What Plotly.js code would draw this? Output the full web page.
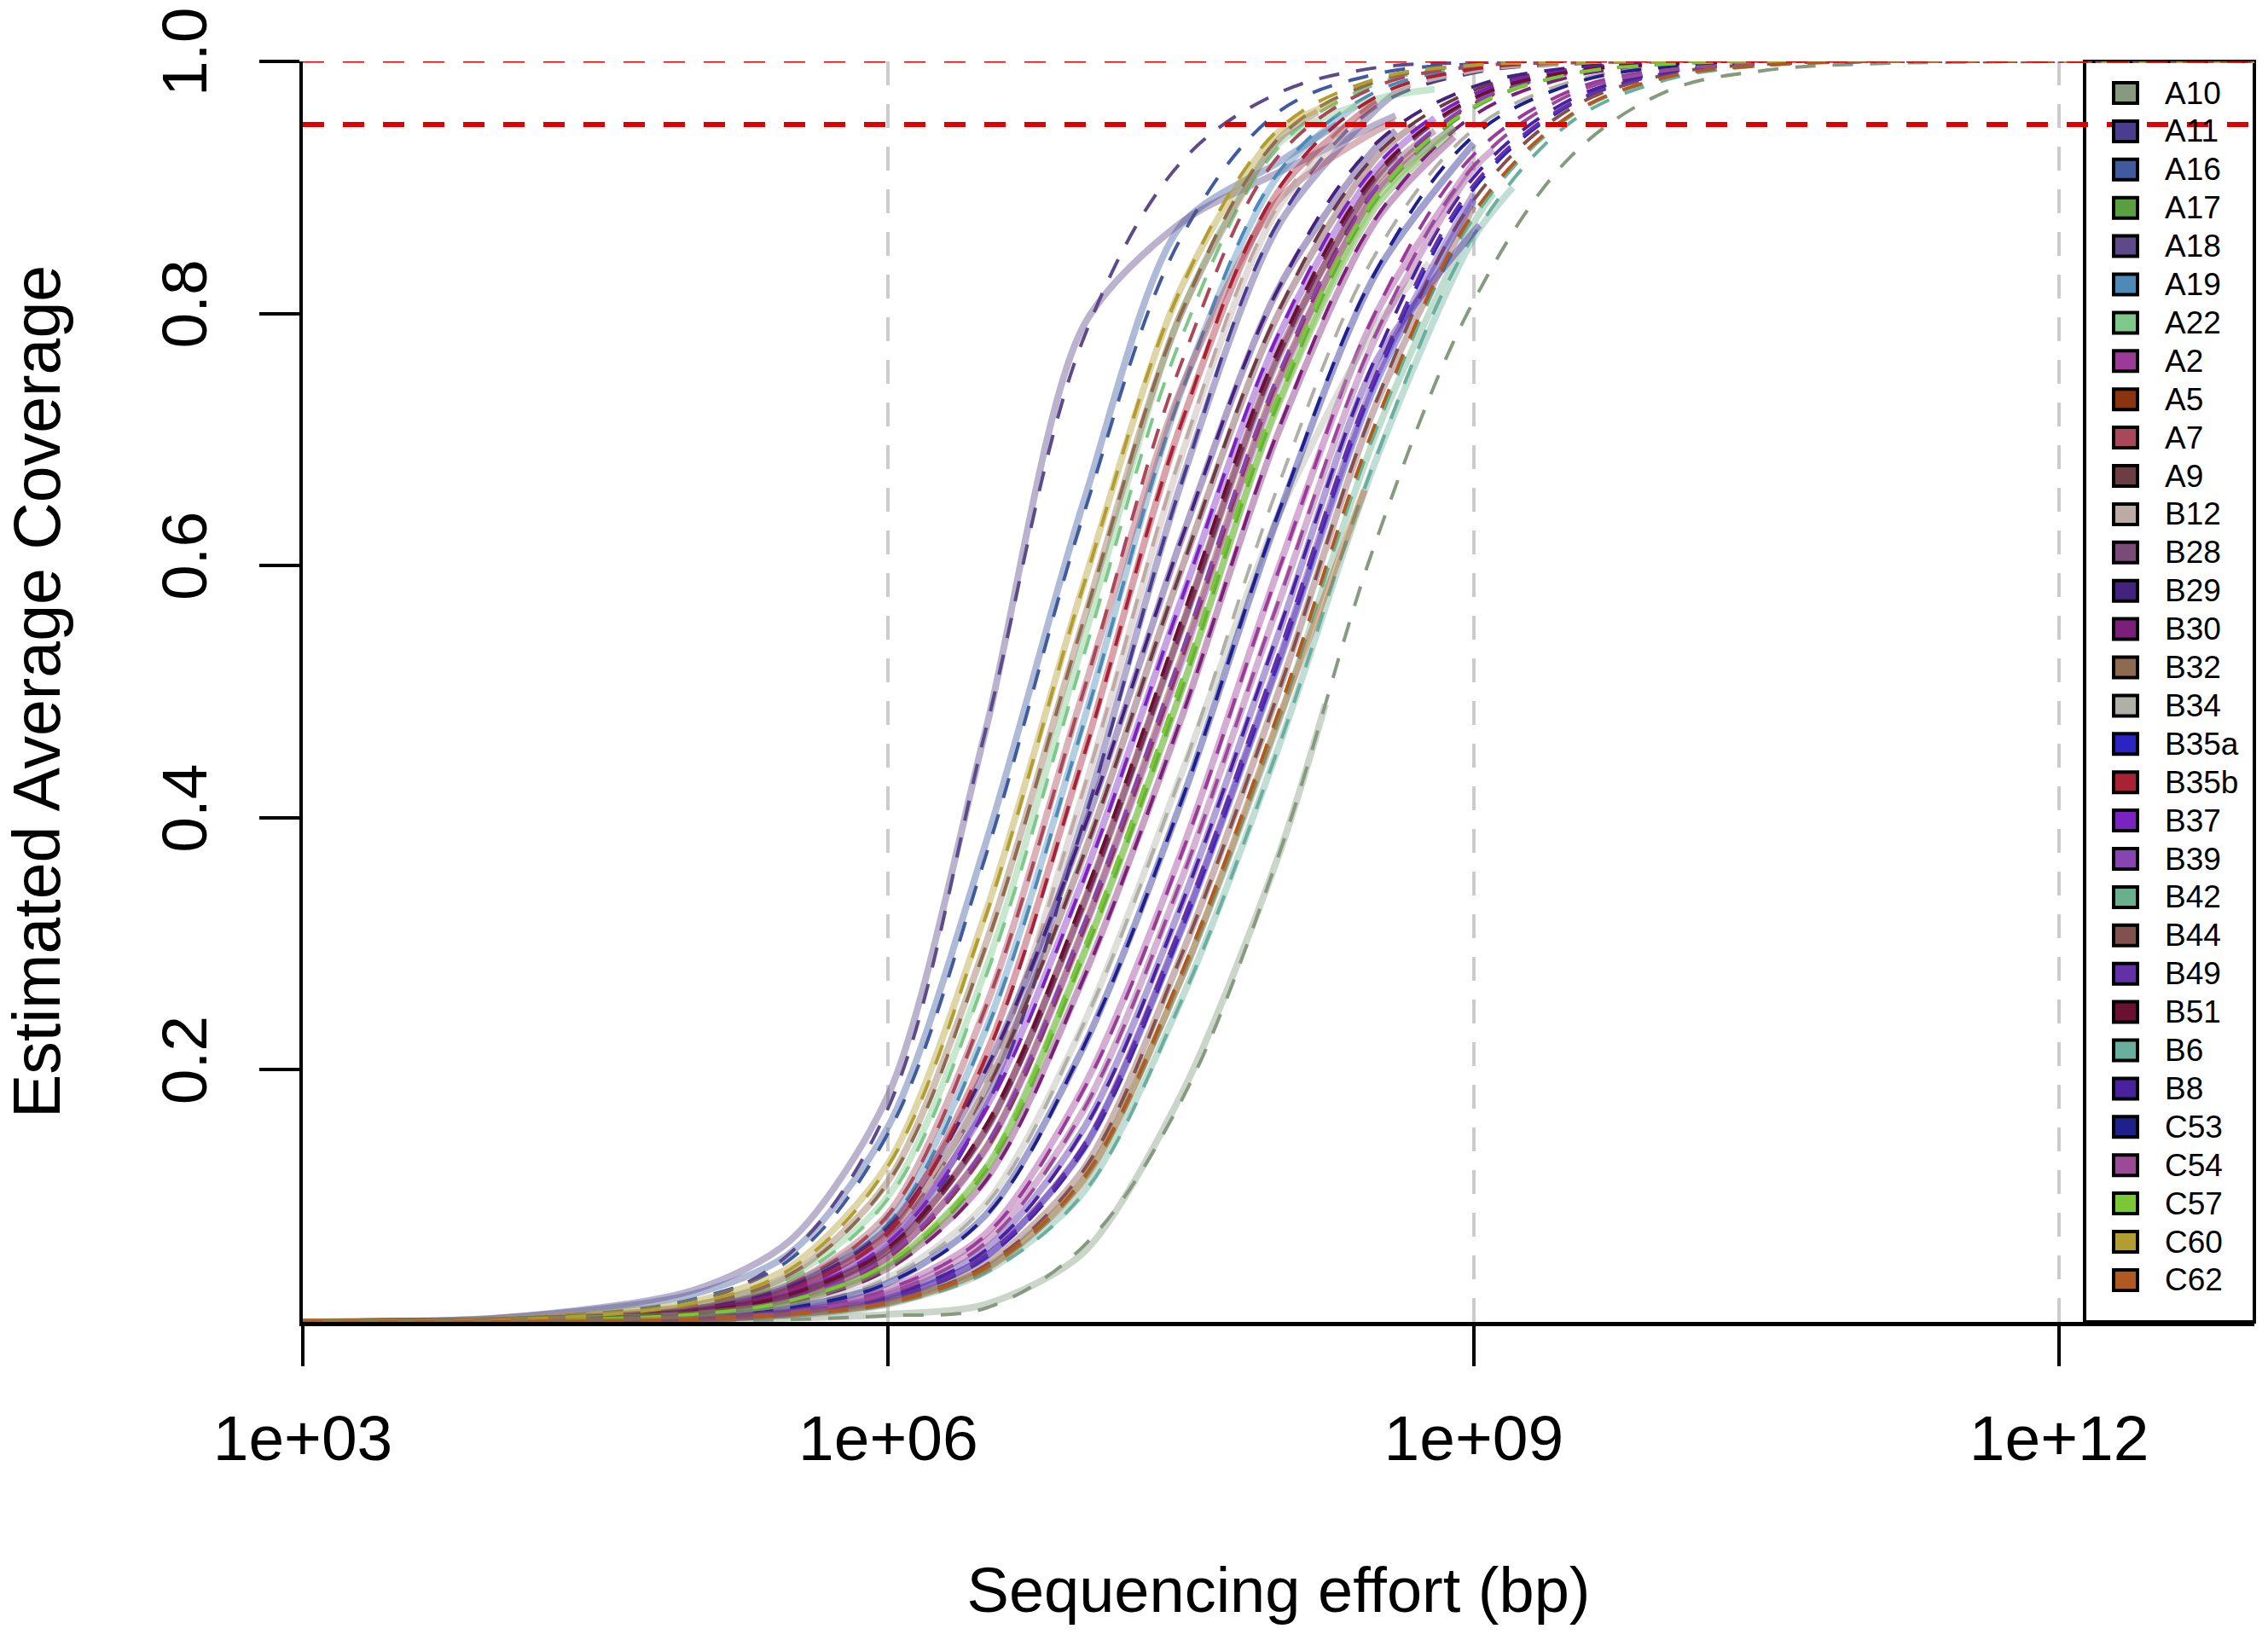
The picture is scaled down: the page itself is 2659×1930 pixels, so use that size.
<!DOCTYPE html>
<html>
<head>
<meta charset="utf-8">
<script src="https://cdn.plot.ly/plotly-3.0.1.min.js"></script>
<style>
  body { margin: 0; background: #fff; }
  #plot { width: 2659px; height: 1930px; }
</style>
</head>
<body>
<div id="plot"></div>
<script>
// sample names, in legend order
var samples = ["A10", "A11", "A16", "A17", "A18", "A19", "A22", "A2", "A5", "A7", "A9",
  "B12", "B28", "B29", "B30", "B32", "B34", "B35a", "B35b", "B37", "B39", "B42",
  "B44", "B49", "B51", "B6", "B8", "C53", "C54", "C57", "C60", "C62"];

var colors = ["#869a80", "#4a3d8f", "#3f5a9e", "#5aa040", "#5e4a8a", "#4d8ab8", "#7cc98a",
  "#9b3a98", "#8c3410", "#a84858", "#6e3c44", "#bcaaa4", "#7c4a78", "#43237e", "#7c1f7a",
  "#8e6a4e", "#b0b0a8", "#2b23c4", "#a82236", "#7a22c2", "#8a44b2", "#6ab08e", "#82504e",
  "#6430a8", "#6a1030", "#6aae9e", "#4a22a0", "#1f1f8e", "#9a4a98", "#7ac838", "#b29e30",
  "#b05a22"];

// log10 of sequencing effort (bp) where the model curves are read
var modelLogEffort = [3, 4, 5, 5.5, 6, 6.5, 7, 7.5, 8, 8.5, 9, 9.5, 10, 10.5, 11, 12, 13];

// model (dashed) coverage, one row per sample
var modelCov = [
  [0, 0, 0.001, 0.002, 0.005, 0.011, 0.06, 0.175, 0.37, 0.62, 0.81, 0.925, 0.977, 0.993, 0.998, 1, 1],
  [0, 0.001, 0.007, 0.02, 0.057, 0.17, 0.396, 0.664, 0.873, 0.964, 0.991, 0.998, 1, 1, 1, 1, 1],
  [0, 0.002, 0.018, 0.05, 0.15, 0.37, 0.64, 0.86, 0.96, 0.99, 0.998, 1, 1, 1, 1, 1, 1],
  [0, 0.001, 0.006, 0.016, 0.045, 0.12, 0.29, 0.5, 0.73, 0.89, 0.963, 0.99, 0.998, 1, 1, 1, 1],
  [0, 0.002, 0.015, 0.055, 0.17, 0.47, 0.78, 0.92, 0.975, 0.995, 0.999, 1, 1, 1, 1, 1, 1],
  [0, 0.001, 0.009, 0.028, 0.078, 0.23, 0.474, 0.736, 0.912, 0.976, 0.995, 0.999, 1, 1, 1, 1, 1],
  [0, 0.001, 0.012, 0.034, 0.098, 0.274, 0.528, 0.78, 0.932, 0.982, 0.996, 0.999, 1, 1, 1, 1, 1],
  [0, 0, 0.004, 0.009, 0.026, 0.069, 0.184, 0.37, 0.596, 0.802, 0.926, 0.977, 0.994, 0.999, 1, 1, 1],
  [0, 0.001, 0.007, 0.018, 0.051, 0.136, 0.31, 0.524, 0.748, 0.899, 0.966, 0.991, 0.998, 1, 1, 1, 1],
  [0, 0.001, 0.01, 0.03, 0.085, 0.25, 0.5, 0.76, 0.925, 0.98, 0.996, 0.999, 1, 1, 1, 1, 1],
  [0, 0.001, 0.009, 0.026, 0.069, 0.184, 0.37, 0.596, 0.802, 0.926, 0.977, 0.994, 0.999, 1, 1, 1, 1],
  [0, 0.001, 0.008, 0.022, 0.064, 0.19, 0.422, 0.688, 0.886, 0.968, 0.992, 0.998, 1, 1, 1, 1, 1],
  [0, 0.001, 0.008, 0.021, 0.057, 0.152, 0.33, 0.548, 0.766, 0.908, 0.97, 0.992, 0.998, 1, 1, 1, 1],
  [0, 0.001, 0.01, 0.028, 0.075, 0.2, 0.39, 0.62, 0.82, 0.935, 0.98, 0.995, 0.999, 1, 1, 1, 1],
  [0, 0.001, 0.006, 0.015, 0.042, 0.112, 0.272, 0.478, 0.708, 0.876, 0.957, 0.988, 0.997, 1, 1, 1, 1],
  [0, 0.001, 0.013, 0.038, 0.111, 0.298, 0.556, 0.8, 0.939, 0.984, 0.997, 0.999, 1, 1, 1, 1, 1],
  [0, 0.001, 0.005, 0.012, 0.035, 0.093, 0.236, 0.434, 0.664, 0.848, 0.946, 0.984, 0.996, 0.999, 1, 1, 1],
  [0, 0, 0.002, 0.007, 0.018, 0.051, 0.136, 0.31, 0.524, 0.748, 0.899, 0.966, 0.991, 0.998, 1, 1, 1],
  [0, 0.001, 0.008, 0.025, 0.071, 0.21, 0.448, 0.712, 0.899, 0.972, 0.994, 0.999, 1, 1, 1, 1, 1],
  [0, 0.001, 0.008, 0.023, 0.063, 0.168, 0.35, 0.572, 0.784, 0.917, 0.974, 0.993, 0.998, 1, 1, 1, 1],
  [0, 0.001, 0.007, 0.019, 0.053, 0.14, 0.315, 0.53, 0.752, 0.9, 0.967, 0.991, 0.998, 1, 1, 1, 1],
  [0, 0, 0.002, 0.006, 0.015, 0.042, 0.112, 0.272, 0.478, 0.708, 0.876, 0.957, 0.988, 0.997, 1, 1, 1],
  [0, 0, 0.002, 0.006, 0.016, 0.045, 0.12, 0.29, 0.5, 0.73, 0.89, 0.963, 0.99, 0.998, 1, 1, 1],
  [0, 0, 0.002, 0.007, 0.019, 0.053, 0.14, 0.315, 0.53, 0.752, 0.902, 0.967, 0.991, 0.998, 1, 1, 1],
  [0, 0.001, 0.008, 0.022, 0.059, 0.156, 0.336, 0.556, 0.772, 0.911, 0.971, 0.992, 0.998, 1, 1, 1, 1],
  [0, 0, 0.002, 0.005, 0.014, 0.039, 0.102, 0.254, 0.456, 0.686, 0.862, 0.952, 0.986, 0.997, 1, 1, 1],
  [0, 0, 0.003, 0.008, 0.021, 0.057, 0.152, 0.33, 0.548, 0.766, 0.908, 0.97, 0.992, 0.998, 1, 1, 1],
  [0, 0.001, 0.004, 0.011, 0.031, 0.084, 0.218, 0.412, 0.642, 0.834, 0.941, 0.982, 0.996, 0.999, 1, 1, 1],
  [0, 0, 0.003, 0.008, 0.023, 0.063, 0.168, 0.35, 0.572, 0.784, 0.917, 0.974, 0.993, 0.998, 1, 1, 1],
  [0, 0.001, 0.006, 0.017, 0.047, 0.124, 0.296, 0.508, 0.736, 0.893, 0.964, 0.99, 0.998, 1, 1, 1, 1],
  [0, 0.001, 0.015, 0.042, 0.124, 0.322, 0.584, 0.82, 0.946, 0.986, 0.997, 0.999, 1, 1, 1, 1, 1],
  [0, 0, 0.002, 0.006, 0.015, 0.043, 0.114, 0.276, 0.484, 0.714, 0.88, 0.958, 0.988, 0.997, 1, 1, 1]
];

// observed (solid) curves: log10 of the largest effort reached by each sample
var obsEnd = [8.24, 8.6, 8.3, 8.9, 8.6, 8.4, 8.8, 9.0, 8.7, 8.6, 8.7, 8.5, 8.8, 8.6, 8.9,
  8.2, 8.77, 9.0, 8.5, 8.8, 8.9, 9.1, 9.0, 9.0, 8.6, 9.2, 9.03, 9.0, 9.1, 8.9, 8.3, 8.44];

// observed coverage at the model efforts below obsEnd, last value at obsEnd
var obsCov = [
  [0, 0, 0.001, 0.003, 0.006, 0.014, 0.055, 0.18, 0.37, 0.49],
  [0, 0.001, 0.008, 0.022, 0.06, 0.175, 0.4, 0.665, 0.87, 0.962, 0.975],
  [0, 0.003, 0.022, 0.055, 0.155, 0.38, 0.65, 0.87, 0.92, 0.95],
  [0, 0.001, 0.006, 0.017, 0.046, 0.122, 0.292, 0.5, 0.728, 0.885, 0.945],
  [0, 0.003, 0.025, 0.065, 0.18, 0.47, 0.79, 0.872, 0.912, 0.95, 0.957],
  [0, 0.001, 0.01, 0.03, 0.08, 0.232, 0.476, 0.738, 0.91, 0.965],
  [0, 0.001, 0.013, 0.036, 0.1, 0.28, 0.54, 0.8, 0.935, 0.97, 0.978],
  [0, 0, 0.004, 0.009, 0.026, 0.07, 0.186, 0.372, 0.598, 0.8, 0.92],
  [0, 0.001, 0.007, 0.019, 0.052, 0.138, 0.312, 0.526, 0.748, 0.897, 0.93],
  [0, 0.001, 0.01, 0.03, 0.086, 0.25, 0.5, 0.74, 0.89, 0.945, 0.952],
  [0, 0.001, 0.009, 0.026, 0.07, 0.185, 0.37, 0.596, 0.8, 0.924, 0.95],
  [0, 0.001, 0.008, 0.022, 0.065, 0.19, 0.42, 0.686, 0.884, 0.965],
  [0, 0.001, 0.008, 0.021, 0.058, 0.153, 0.33, 0.548, 0.765, 0.905, 0.945],
  [0, 0.001, 0.01, 0.028, 0.075, 0.2, 0.39, 0.62, 0.82, 0.932, 0.945],
  [0, 0.001, 0.006, 0.015, 0.043, 0.113, 0.273, 0.478, 0.706, 0.874, 0.94],
  [0, 0.001, 0.013, 0.038, 0.112, 0.3, 0.556, 0.8, 0.938, 0.96],
  [0, 0.001, 0.005, 0.012, 0.035, 0.094, 0.236, 0.434, 0.64, 0.79, 0.84],
  [0, 0, 0.002, 0.007, 0.018, 0.052, 0.137, 0.31, 0.522, 0.745, 0.89],
  [0, 0.001, 0.008, 0.025, 0.072, 0.212, 0.45, 0.712, 0.897, 0.968],
  [0, 0.001, 0.008, 0.023, 0.064, 0.17, 0.352, 0.572, 0.782, 0.914, 0.955],
  [0, 0.001, 0.007, 0.018, 0.052, 0.137, 0.31, 0.522, 0.745, 0.895, 0.948],
  [0, 0, 0.002, 0.006, 0.015, 0.043, 0.113, 0.272, 0.476, 0.705, 0.872, 0.895],
  [0, 0, 0.002, 0.006, 0.016, 0.046, 0.121, 0.29, 0.5, 0.728, 0.885],
  [0, 0, 0.002, 0.007, 0.019, 0.052, 0.138, 0.312, 0.525, 0.75, 0.895],
  [0, 0.001, 0.008, 0.021, 0.057, 0.152, 0.332, 0.55, 0.768, 0.908, 0.925],
  [0, 0, 0.002, 0.005, 0.014, 0.04, 0.103, 0.255, 0.456, 0.684, 0.86, 0.9],
  [0, 0, 0.003, 0.008, 0.021, 0.058, 0.153, 0.33, 0.546, 0.762, 0.865, 0.87],
  [0, 0.001, 0.004, 0.011, 0.031, 0.085, 0.218, 0.412, 0.64, 0.832, 0.935],
  [0, 0, 0.003, 0.008, 0.023, 0.064, 0.168, 0.35, 0.57, 0.782, 0.915, 0.93],
  [0, 0.001, 0.006, 0.016, 0.045, 0.12, 0.29, 0.5, 0.73, 0.89, 0.948],
  [0, 0.002, 0.016, 0.044, 0.126, 0.325, 0.585, 0.82, 0.944, 0.968],
  [0, 0, 0.002, 0.006, 0.015, 0.042, 0.112, 0.272, 0.478, 0.66]
];

var xTicks = [1e3, 1e6, 1e9, 1e12];
var xTickText = ["1e+03", "1e+06", "1e+09", "1e+12"];
var yTicks = [0.2, 0.4, 0.6, 0.8, 1.0];
var yTickText = ["0.2", "0.4", "0.6", "0.8", "1.0"];

var font = "Liberation Sans, Arial, Helvetica, sans-serif";

function hexA(hex, a) {
  var r = parseInt(hex.substr(1, 2), 16);
  var g = parseInt(hex.substr(3, 2), 16);
  var b = parseInt(hex.substr(5, 2), 16);
  return "rgba(" + r + "," + g + "," + b + "," + a + ")";
}

var data = [];
for (var i = 0; i < samples.length; i++) {
  // observed curve: thick, see-through
  var n = obsCov[i].length;
  var ox = modelLogEffort.slice(0, n - 1).concat([obsEnd[i]]).map(function (v) { return Math.pow(10, v); });
  data.push({
    type: "scatter", mode: "lines", name: samples[i], showlegend: false,
    x: ox, y: obsCov[i],
    line: { color: hexA(colors[i], 0.42), width: 8, shape: "spline", smoothing: 0.8 }
  });
  // model curve: dashed
  data.push({
    type: "scatter", mode: "lines", name: samples[i] + " model", showlegend: false,
    x: modelLogEffort.map(function (v) { return Math.pow(10, v); }),
    y: modelCov[i],
    line: { color: colors[i], width: 4, dash: "24px,20px", shape: "spline", smoothing: 1 }
  });
}

// plot area in pixels (for the hand-drawn legend)
var L = 355, R = 16, T = 72, B = 380, W = 2659, H = 1930;
var pw = W - L - R, ph = H - T - B;
function px2x(p) { return (p - L) / pw; }
function px2y(p) { return (H - B - p) / ph; }

var shapes = [
  // legend box
  { type: "rect", xref: "paper", yref: "paper", x0: px2x(2444), x1: 1, y0: 0, y1: 1,
    fillcolor: "white", line: { color: "black", width: 4 }, layer: "below" },
  // 95% and 100% coverage lines
  { type: "line", xref: "paper", yref: "y", x0: 0, x1: 1, y0: 1, y1: 1,
    line: { color: "#e00000", width: 3, dash: "25px,22px" }, layer: "above" },
  { type: "line", xref: "paper", yref: "y", x0: 0, x1: 1, y0: 0.95, y1: 0.95,
    line: { color: "#e00000", width: 6, dash: "25px,22px" }, layer: "above" }
];
var annotations = [];
for (var j = 0; j < samples.length; j++) {
  var yc = 109 + 44.9 * j;
  shapes.push({ type: "rect", xref: "paper", yref: "paper",
    x0: px2x(2478), x1: px2x(2506), y0: px2y(yc + 12), y1: px2y(yc - 12),
    fillcolor: colors[j], line: { color: "black", width: 4 }, layer: "above" });
  annotations.push({ xref: "paper", yref: "paper", x: px2x(2536), y: px2y(yc),
    xanchor: "left", yanchor: "middle", showarrow: false, text: samples[j],
    font: { family: font, size: 37, color: "black" } });
}

var layout = {
  width: W, height: H,
  margin: { l: L, r: R, t: T, b: B, pad: 0 },
  paper_bgcolor: "white", plot_bgcolor: "white",
  showlegend: false,
  font: { family: font, color: "black" },
  xaxis: {
    type: "log", range: [3, 13.0],
    tickvals: xTicks, ticktext: xTickText,
    tickfont: { size: 75 }, ticks: "outside", ticklen: 47, tickwidth: 4, tickcolor: "black",
    ticklabelstandoff: 20,
    showline: true, linecolor: "black", linewidth: 5,
    showgrid: true, gridcolor: "#cccccc", gridwidth: 4, griddash: "28px,22px",
    zeroline: false,
    title: { text: "Sequencing effort (bp)", font: { size: 74 }, standoff: 113 }
  },
  yaxis: {
    range: [0, 1],
    tickvals: yTicks, ticktext: yTickText, tickangle: -90,
    tickfont: { size: 75 }, ticks: "outside", ticklen: 47, tickwidth: 4, tickcolor: "black",
    ticklabelstandoff: 32,
    showline: true, linecolor: "black", linewidth: 4,
    showgrid: false, zeroline: false,
    title: { text: "Estimated Average Coverage", font: { size: 77 }, standoff: 112 }
  },
  shapes: shapes,
  annotations: annotations
};

Plotly.newPlot("plot", data, layout, { staticPlot: true });
</script>
</body>
</html>
